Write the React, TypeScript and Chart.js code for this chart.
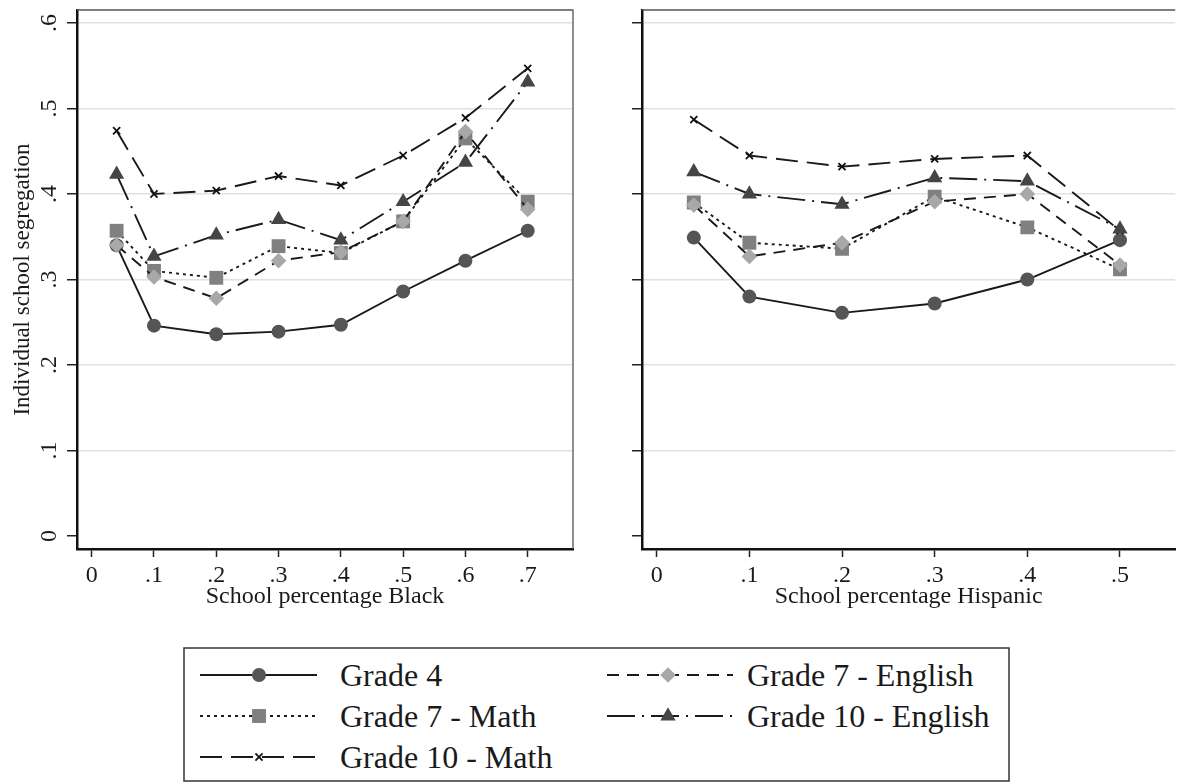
import { useEffect, useRef } from "react";
import Chart from "chart.js/auto";

const FONT_FAMILY = "'Liberation Serif', 'Times New Roman', serif";

// x positions of the points (school share)
const blackShares = [0.04, 0.1, 0.2, 0.3, 0.4, 0.5, 0.6, 0.7];
const hispanicShares = [0.04, 0.1, 0.2, 0.3, 0.4, 0.5];

// left panel: school percentage Black
const grade4Black = [0.340, 0.246, 0.236, 0.239, 0.247, 0.286, 0.322, 0.357];
const grade7MathBlack = [0.357, 0.310, 0.302, 0.339, 0.331, 0.368, 0.465, 0.391];
const grade10MathBlack = [0.474, 0.400, 0.404, 0.421, 0.410, 0.445, 0.489, 0.547];
const grade7EnglishBlack = [0.340, 0.303, 0.278, 0.322, 0.332, 0.368, 0.473, 0.382];
const grade10EnglishBlack = [0.423, 0.327, 0.352, 0.370, 0.346, 0.391, 0.437, 0.531];

// right panel: school percentage Hispanic
const grade4Hispanic = [0.349, 0.280, 0.261, 0.272, 0.300, 0.346];
const grade7MathHispanic = [0.390, 0.343, 0.336, 0.397, 0.361, 0.312];
const grade10MathHispanic = [0.487, 0.445, 0.432, 0.441, 0.445, 0.357];
const grade7EnglishHispanic = [0.387, 0.327, 0.343, 0.391, 0.400, 0.317];
const grade10EnglishHispanic = [0.426, 0.400, 0.388, 0.419, 0.415, 0.359];

const seriesLabels = ["Grade 4", "Grade 7 - Math", "Grade 10 - Math", "Grade 7 - English", "Grade 10 - English"];

const yTicks = [0, 0.1, 0.2, 0.3, 0.4, 0.5, 0.6];
const yTickLabels = ["0", ".1", ".2", ".3", ".4", ".5", ".6"];
const blackTicks = [0, 0.1, 0.2, 0.3, 0.4, 0.5, 0.6, 0.7];
const blackTickLabels = ["0", ".1", ".2", ".3", ".4", ".5", ".6", ".7"];
const hispanicTicks = [0, 0.1, 0.2, 0.3, 0.4, 0.5];
const hispanicTickLabels = ["0", ".1", ".2", ".3", ".4", ".5"];

type PointKind = "circle" | "rect" | "crossRot" | "rectRot" | "triangle";

interface SeriesStyle {
  dash: number[];
  point: PointKind;
  radius: number;
  fill: string;
  stroke: number;
}

const seriesStyles: SeriesStyle[] = [
  { dash: [], point: "circle", radius: 7, fill: "#555555", stroke: 0 },
  { dash: [3, 4], point: "rect", radius: 9.8, fill: "#808080", stroke: 0 },
  { dash: [22, 9], point: "crossRot", radius: 5, fill: "#111111", stroke: 1.8 },
  { dash: [12, 8], point: "rectRot", radius: 7.8, fill: "#a8a8a8", stroke: 0 },
  { dash: [28, 7, 2, 7], point: "triangle", radius: 8.8, fill: "#454545", stroke: 0 },
];

const LINE_COLOR = "#1a1a1a";
const TEXT_COLOR = "#1a1a1a";

interface PanelProps {
  xs: number[];
  series: number[][];
  xMin: number;
  xMax: number;
  xTicks: number[];
  xTickLabels: string[];
  xTitle: string;
  showYLabels: boolean;
  left: number;
  width: number;
  axisWidth: number;
  padRight: number;
  drawRightBorder: boolean;
}

function Panel(props: PanelProps) {
  const canvasRef = useRef<HTMLCanvasElement>(null);
  const chartRef = useRef<Chart | null>(null);

  useEffect(() => {
    if (!canvasRef.current) return;
    if (chartRef.current) chartRef.current.destroy();

    const font = { family: FONT_FAMILY, size: 24 };

    // thin frame on top (and right) of the plot region
    const framePlugin = {
      id: "frame",
      afterDraw(chart: any) {
        const { ctx, chartArea } = chart;
        ctx.save();
        ctx.strokeStyle = "#555";
        ctx.lineWidth = 1.3;
        ctx.beginPath();
        ctx.moveTo(chartArea.left, chartArea.top);
        ctx.lineTo(chartArea.right, chartArea.top);
        if (props.drawRightBorder) ctx.lineTo(chartArea.right, chartArea.bottom);
        ctx.stroke();
        ctx.restore();
      },
    };

    // Stata-style rotated y tick labels
    const yLabelPlugin = {
      id: "yLabels",
      afterDraw(chart: any) {
        if (!props.showYLabels) return;
        const { ctx } = chart;
        const y = chart.scales.y;
        ctx.save();
        ctx.fillStyle = TEXT_COLOR;
        ctx.font = `24px ${FONT_FAMILY}`;
        ctx.textAlign = "center";
        ctx.textBaseline = "middle";
        yTicks.forEach((v, i) => {
          ctx.save();
          ctx.translate(50, y.getPixelForValue(v));
          ctx.rotate(-Math.PI / 2);
          ctx.fillText(yTickLabels[i], 0, 0);
          ctx.restore();
        });
        ctx.restore();
      },
    };

    chartRef.current = new Chart(canvasRef.current, {
      type: "line",
      data: {
        datasets: props.series.map((vals, i) => {
          const st = seriesStyles[i];
          return {
            label: seriesLabels[i],
            data: props.xs.map((x, j) => ({ x, y: vals[j] })),
            borderColor: LINE_COLOR,
            borderWidth: 1.9,
            borderDash: st.dash,
            fill: false,
            tension: 0,
            pointStyle: st.point,
            pointRadius: st.radius,
            pointBackgroundColor: st.fill,
            pointBorderColor: st.fill,
            pointBorderWidth: st.stroke,
            order: props.series.length - i,
          };
        }),
      },
      options: {
        animation: false,
        responsive: true,
        maintainAspectRatio: false,
        layout: { padding: { top: 10, right: props.padRight, left: 0, bottom: 0 } },
        plugins: {
          legend: { display: false },
          tooltip: { enabled: false },
        },
        scales: {
          x: {
            type: "linear",
            min: props.xMin,
            max: props.xMax,
            afterBuildTicks: (scale: any) => {
              scale.ticks = props.xTicks.map((v) => ({ value: v }));
            },
            afterFit: (scale: any) => {
              scale.height = 91;
            },
            ticks: {
              callback: (_v: any, i: number) => props.xTickLabels[i],
              font,
              color: TEXT_COLOR,
              padding: 4,
              maxRotation: 0,
              autoSkip: false,
            },
            grid: {
              drawOnChartArea: false,
              drawTicks: true,
              tickLength: 8,
              tickColor: "#222",
              tickWidth: 1.5,
            },
            border: { display: true, color: "#111", width: 2.5 },
            title: {
              display: true,
              text: props.xTitle,
              font,
              color: TEXT_COLOR,
              padding: { top: 0, bottom: 29 },
            },
          },
          y: {
            type: "linear",
            min: -0.0152,
            max: 0.6152,
            afterBuildTicks: (scale: any) => {
              scale.ticks = yTicks.map((v) => ({ value: v }));
            },
            afterFit: (scale: any) => {
              scale.width = props.axisWidth;
            },
            ticks: { display: false },
            grid: {
              color: (ctx: any) => (ctx.tick && ctx.tick.value === 0 ? "rgba(0,0,0,0)" : "#e0e0e0"),
              lineWidth: 1.5,
              drawTicks: true,
              tickLength: 10,
              tickColor: "#222",
              tickWidth: 1.5,
            },
            border: { display: true, color: "#111", width: 2.5 },
            title: {
              display: props.showYLabels,
              text: "Individual school segregation",
              font: { family: FONT_FAMILY, size: 23 },
              color: TEXT_COLOR,
              padding: { top: 9, bottom: 0 },
            },
          },
        },
      },
      plugins: [framePlugin, yLabelPlugin],
    } as any);

    return () => {
      if (chartRef.current) {
        chartRef.current.destroy();
        chartRef.current = null;
      }
    };
  }, [props]);

  return (
    <div style={{ position: "absolute", left: props.left, top: 0, width: props.width, height: 640 }}>
      <canvas ref={canvasRef} />
    </div>
  );
}

const legendRows = [675, 716, 757];
const legendCols = [
  { x1: 200, x2: 317, marker: 259, text: 340 },
  { x1: 607, x2: 733, marker: 668, text: 747 },
];

function LegendMarker({ st, cx, cy }: { st: SeriesStyle; cx: number; cy: number }) {
  const r = st.radius;
  if (st.point === "circle") return <circle cx={cx} cy={cy} r={r} fill={st.fill} />;
  if (st.point === "rect") {
    const s = r * Math.SQRT1_2;
    return <rect x={cx - s} y={cy - s} width={2 * s} height={2 * s} fill={st.fill} />;
  }
  if (st.point === "rectRot")
    return <polygon points={`${cx - r},${cy} ${cx},${cy - r} ${cx + r},${cy} ${cx},${cy + r}`} fill={st.fill} />;
  if (st.point === "triangle") {
    const w = r * Math.sin((2 * Math.PI) / 3);
    const h = r * 0.5;
    return <polygon points={`${cx},${cy - r} ${cx + w},${cy + h} ${cx - w},${cy + h}`} fill={st.fill} />;
  }
  const d = r * Math.SQRT1_2;
  return (
    <g stroke={st.fill} strokeWidth={st.stroke}>
      <line x1={cx - d} y1={cy - d} x2={cx + d} y2={cy + d} />
      <line x1={cx - d} y1={cy + d} x2={cx + d} y2={cy - d} />
    </g>
  );
}

function Legend() {
  return (
    <svg width={1185} height={783} style={{ position: "absolute", left: 0, top: 0, pointerEvents: "none" }}>
      <rect x={184} y={648} width={825} height={133} fill="white" stroke="#333" strokeWidth={1.5} />
      {seriesLabels.map((label, i) => {
        const col = legendCols[i < 3 ? 0 : 1];
        const y = legendRows[i < 3 ? i : i - 3];
        const st = seriesStyles[i];
        return (
          <g key={label}>
            <line
              x1={col.x1}
              y1={y}
              x2={col.x2}
              y2={y}
              stroke={LINE_COLOR}
              strokeWidth={1.9}
              strokeDasharray={st.dash.length ? st.dash.join(" ") : undefined}
            />
            <LegendMarker st={st} cx={col.marker} cy={y} />
            <text
              x={col.text}
              y={y}
              dominantBaseline="central"
              fontFamily={FONT_FAMILY}
              fontSize={32}
              fill={TEXT_COLOR}
            >
              {label}
            </text>
          </g>
        );
      })}
    </svg>
  );
}

const blackPanel: PanelProps = {
  xs: blackShares,
  series: [grade4Black, grade7MathBlack, grade10MathBlack, grade7EnglishBlack, grade10EnglishBlack],
  xMin: -0.0236,
  xMax: 0.7727,
  xTicks: blackTicks,
  xTickLabels: blackTickLabels,
  xTitle: "School percentage Black",
  showYLabels: true,
  left: 0,
  width: 600,
  axisWidth: 77,
  padRight: 27,
  drawRightBorder: true,
};

const hispanicPanel: PanelProps = {
  xs: hispanicShares,
  series: [grade4Hispanic, grade7MathHispanic, grade10MathHispanic, grade7EnglishHispanic, grade10EnglishHispanic],
  xMin: -0.0159,
  xMax: 0.5596,
  xTicks: hispanicTicks,
  xTickLabels: hispanicTickLabels,
  xTitle: "School percentage Hispanic",
  showYLabels: false,
  left: 590,
  width: 595,
  axisWidth: 52,
  padRight: 0,
  drawRightBorder: false,
};

export default function App() {
  return (
    <div
      style={{
        position: "fixed",
        left: 0,
        top: 0,
        width: 1185,
        height: 783,
        background: "white",
        overflow: "hidden",
      }}
    >
      <Panel {...blackPanel} />
      <Panel {...hispanicPanel} />
      <Legend />
    </div>
  );
}
